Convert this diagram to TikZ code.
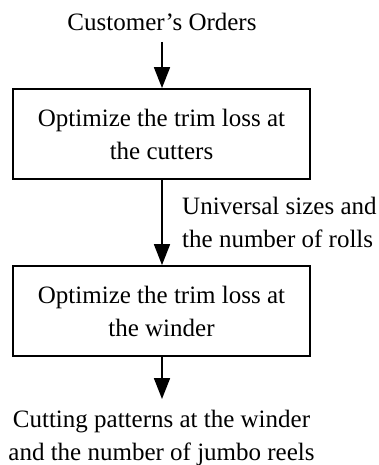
\documentclass[tikz,border=0pt]{standalone}
\usepackage{fontspec}
\setmainfont{Liberation Serif}
\usetikzlibrary{arrows.meta}
\begin{document}
\begin{tikzpicture}[x=1pt,y=-1pt,
  every node/.style={font=\fontsize{25}{33}\selectfont, inner sep=0pt},
  procbox/.style={draw, line width=1.8pt, minimum width=297pt, minimum height=90pt, align=center},
  flow/.style={line width=1.8pt, -{Triangle[length=21pt,width=16pt]}},
  txt/.style={align=center}]
\useasboundingbox (0,0) rectangle (379,465);
\node[txt] (orders) at (162,22) {Customer’s Orders};
\node[procbox] (cut) at (161.5,134) {Optimize the trim loss at\\the cutters};
\node[procbox] (wind) at (161.5,311) {Optimize the trim loss at\\the winder};
\node[txt] (out) at (161.5,438) {Cutting patterns at the winder\\and the number of jumbo reels};
\node[align=left, anchor=west] (lab) at (182,222) {Universal sizes and\\the number of rolls};
\coordinate (a1s) at (162,42);
\coordinate (a3e) at (162,399);
\draw[flow] (a1s) -- (cut.north -| a1s);
\draw[flow] (cut.south -| a1s) -- (wind.north -| a1s);
\draw[flow] (wind.south -| a1s) -- (a3e);
\end{tikzpicture}
\end{document}
